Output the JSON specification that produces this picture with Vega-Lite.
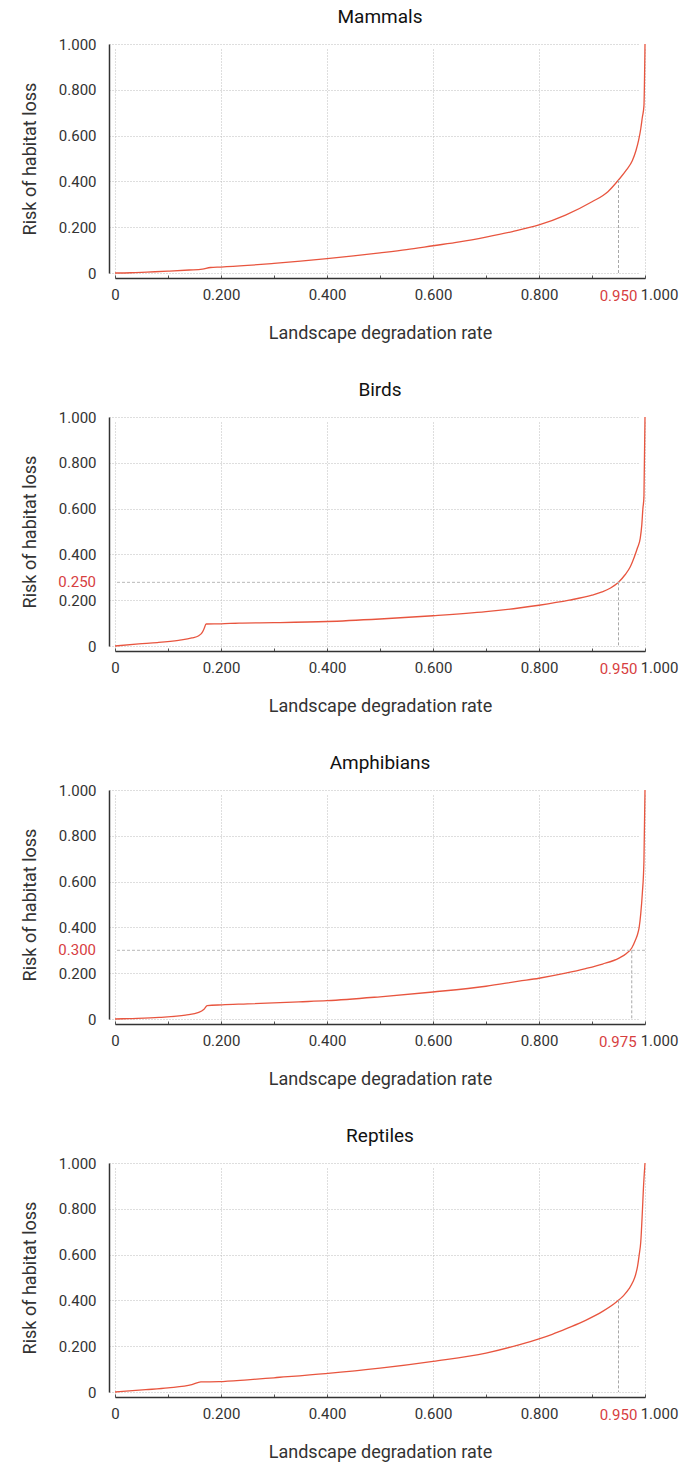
{
  "$schema": "https://vega.github.io/schema/vega-lite/v6.json",
  "padding": {"left": 21, "top": 8, "right": 5, "bottom": 5},
  "spacing": 39,
  "datasets": {
    "mammals": [
      {"x": 0, "y": 0}, {"x": 0.03, "y": 0.001}, {"x": 0.06, "y": 0.004}, {"x": 0.1, "y": 0.008},
      {"x": 0.14, "y": 0.013}, {"x": 0.165, "y": 0.017}, {"x": 0.18, "y": 0.024}, {"x": 0.2, "y": 0.026},
      {"x": 0.25, "y": 0.033}, {"x": 0.3, "y": 0.042}, {"x": 0.35, "y": 0.052}, {"x": 0.4, "y": 0.063},
      {"x": 0.45, "y": 0.075}, {"x": 0.5, "y": 0.088}, {"x": 0.55, "y": 0.102}, {"x": 0.6, "y": 0.119},
      {"x": 0.65, "y": 0.136}, {"x": 0.7, "y": 0.157}, {"x": 0.75, "y": 0.181}, {"x": 0.8, "y": 0.21},
      {"x": 0.85, "y": 0.253}, {"x": 0.9, "y": 0.311}, {"x": 0.93, "y": 0.355}, {"x": 0.95, "y": 0.406},
      {"x": 0.965, "y": 0.45}, {"x": 0.976, "y": 0.49}, {"x": 0.983, "y": 0.535}, {"x": 0.988, "y": 0.58},
      {"x": 0.992, "y": 0.63}, {"x": 0.995, "y": 0.68}, {"x": 0.998, "y": 0.73}, {"x": 1.0, "y": 1.0}
    ],
    "birds": [
      {"x": 0, "y": 0}, {"x": 0.045, "y": 0.009}, {"x": 0.08, "y": 0.015}, {"x": 0.12, "y": 0.025},
      {"x": 0.145, "y": 0.035}, {"x": 0.158, "y": 0.045}, {"x": 0.164, "y": 0.057}, {"x": 0.168, "y": 0.075},
      {"x": 0.172, "y": 0.096}, {"x": 0.2, "y": 0.097}, {"x": 0.234, "y": 0.1}, {"x": 0.3, "y": 0.102},
      {"x": 0.4, "y": 0.107}, {"x": 0.5, "y": 0.118}, {"x": 0.6, "y": 0.132}, {"x": 0.7, "y": 0.15},
      {"x": 0.762, "y": 0.166}, {"x": 0.8, "y": 0.178}, {"x": 0.857, "y": 0.2}, {"x": 0.9, "y": 0.222},
      {"x": 0.919, "y": 0.236}, {"x": 0.935, "y": 0.253}, {"x": 0.95, "y": 0.278}, {"x": 0.962, "y": 0.31},
      {"x": 0.972, "y": 0.345}, {"x": 0.98, "y": 0.39}, {"x": 0.986, "y": 0.43}, {"x": 0.991, "y": 0.47},
      {"x": 0.994, "y": 0.53}, {"x": 0.996, "y": 0.6}, {"x": 0.998, "y": 0.65}, {"x": 1.0, "y": 1.0}
    ],
    "amphibians": [
      {"x": 0, "y": 0}, {"x": 0.026, "y": 0.002}, {"x": 0.083, "y": 0.007}, {"x": 0.133, "y": 0.017},
      {"x": 0.158, "y": 0.029}, {"x": 0.168, "y": 0.043}, {"x": 0.174, "y": 0.058}, {"x": 0.202, "y": 0.062},
      {"x": 0.25, "y": 0.066}, {"x": 0.347, "y": 0.075}, {"x": 0.4, "y": 0.08}, {"x": 0.5, "y": 0.097},
      {"x": 0.6, "y": 0.118}, {"x": 0.7, "y": 0.143}, {"x": 0.762, "y": 0.165}, {"x": 0.8, "y": 0.178},
      {"x": 0.85, "y": 0.2}, {"x": 0.888, "y": 0.22}, {"x": 0.92, "y": 0.24}, {"x": 0.951, "y": 0.266},
      {"x": 0.965, "y": 0.286}, {"x": 0.975, "y": 0.31}, {"x": 0.982, "y": 0.345}, {"x": 0.986, "y": 0.37},
      {"x": 0.989, "y": 0.4}, {"x": 0.992, "y": 0.46}, {"x": 0.995, "y": 0.55}, {"x": 0.998, "y": 0.69}, {"x": 1.0, "y": 1.0}
    ],
    "reptiles": [
      {"x": 0, "y": 0}, {"x": 0.058, "y": 0.01}, {"x": 0.1, "y": 0.018}, {"x": 0.145, "y": 0.032},
      {"x": 0.162, "y": 0.044}, {"x": 0.196, "y": 0.045}, {"x": 0.25, "y": 0.053}, {"x": 0.3, "y": 0.062},
      {"x": 0.397, "y": 0.08}, {"x": 0.5, "y": 0.104}, {"x": 0.6, "y": 0.134}, {"x": 0.7, "y": 0.17},
      {"x": 0.762, "y": 0.206}, {"x": 0.8, "y": 0.232}, {"x": 0.825, "y": 0.252}, {"x": 0.855, "y": 0.28},
      {"x": 0.888, "y": 0.313}, {"x": 0.92, "y": 0.352}, {"x": 0.946, "y": 0.393}, {"x": 0.96, "y": 0.422},
      {"x": 0.97, "y": 0.451}, {"x": 0.977, "y": 0.48}, {"x": 0.982, "y": 0.51}, {"x": 0.986, "y": 0.55},
      {"x": 0.989, "y": 0.598}, {"x": 0.992, "y": 0.655}, {"x": 0.995, "y": 0.786}, {"x": 0.997, "y": 0.888}, {"x": 1.0, "y": 1.0}
    ]
  },
  "vconcat": [
    {
      "title": "Mammals",
      "width": 530, "height": 229,
      "layer": [
        {
          "data": {"name": "mammals"},
          "mark": {"type": "line", "color": "#e8553f", "strokeWidth": 1.3, "interpolate": "monotone"},
          "encoding": {
            "x": {"field": "x", "type": "quantitative", "scale": {"domain": [0, 1], "nice": false},
              "axis": {
                "title": "Landscape degradation rate",
                "labelFlush": false,
                "values": [0,0.05,0.1,0.15,0.2,0.25,0.3,0.35,0.4,0.45,0.5,0.55,0.6,0.65,0.7,0.75,0.8,0.85,0.9,0.95,1],
                "labelExpr": "datum.value == 0 ? '0' : (abs(datum.value*5 - round(datum.value*5)) < 1e-6 ? format(datum.value, '.3f') : '')",
                "labelOffset": {"condition": {"test": "datum.value == 1", "value": 14}, "value": 0},
                "gridOpacity": {"condition": {"test": "abs(datum.value*5 - round(datum.value*5)) < 1e-6", "value": 1}, "value": 0}
              }
            },
            "y": {"field": "y", "type": "quantitative", "scale": {"domain": [0, 1], "nice": false},
              "axis": {
                "title": "Risk of habitat loss",
                "values": [0, 0.2, 0.4, 0.6, 0.8, 1],
                "labelExpr": "datum.value == 0 ? '0' : format(datum.value, '.3f')"
              }
            }
          }
        },
        {
          "data": {"values": [{"x": 0.95, "y": 0.406}]},
          "mark": {"type": "rule", "color": "#a8a8a8", "strokeDash": [3, 2], "strokeWidth": 1},
          "encoding": {
            "x": {"field": "x", "type": "quantitative"},
            "y": {"field": "y", "type": "quantitative"},
            "y2": {"datum": 0}
          }
        },
        {
          "data": {"values": [{"x": 0.95, "y": 0, "label": "0.950"}]},
          "mark": {"type": "text", "color": "#d7403f", "font": "Roboto", "fontSize": 15, "align": "center", "baseline": "middle", "dy": 23},
          "encoding": {
            "x": {"field": "x", "type": "quantitative"},
            "y": {"field": "y", "type": "quantitative"},
            "text": {"field": "label"}
          }
        }
      ]
    },
    {
      "title": "Birds",
      "width": 530, "height": 229,
      "layer": [
        {
          "data": {"name": "birds"},
          "mark": {"type": "line", "color": "#e8553f", "strokeWidth": 1.3, "interpolate": "monotone"},
          "encoding": {
            "x": {"field": "x", "type": "quantitative", "scale": {"domain": [0, 1], "nice": false},
              "axis": {
                "title": "Landscape degradation rate",
                "labelFlush": false,
                "values": [0,0.05,0.1,0.15,0.2,0.25,0.3,0.35,0.4,0.45,0.5,0.55,0.6,0.65,0.7,0.75,0.8,0.85,0.9,0.95,1],
                "labelExpr": "datum.value == 0 ? '0' : (abs(datum.value*5 - round(datum.value*5)) < 1e-6 ? format(datum.value, '.3f') : '')",
                "labelOffset": {"condition": {"test": "datum.value == 1", "value": 14}, "value": 0},
                "gridOpacity": {"condition": {"test": "abs(datum.value*5 - round(datum.value*5)) < 1e-6", "value": 1}, "value": 0}
              }
            },
            "y": {"field": "y", "type": "quantitative", "scale": {"domain": [0, 1], "nice": false},
              "axis": {
                "title": "Risk of habitat loss",
                "values": [0, 0.2, 0.4, 0.6, 0.8, 1],
                "labelExpr": "datum.value == 0 ? '0' : format(datum.value, '.3f')"
              }
            }
          }
        },
        {
          "data": {"values": [{"x": 0.95, "y": 0.278}]},
          "mark": {"type": "rule", "color": "#a8a8a8", "strokeDash": [3, 2], "strokeWidth": 1},
          "encoding": {
            "x": {"field": "x", "type": "quantitative"},
            "y": {"field": "y", "type": "quantitative"},
            "y2": {"datum": 0}
          }
        },
        {
          "data": {"values": [{"y": 0.278}]},
          "mark": {"type": "rule", "color": "#b8b8b8", "strokeDash": [3, 2], "strokeWidth": 1},
          "encoding": {
            "y": {"field": "y", "type": "quantitative"}
          }
        },
        {
          "data": {"values": [{"x": 0.95, "y": 0, "label": "0.950"}]},
          "mark": {"type": "text", "color": "#d7403f", "font": "Roboto", "fontSize": 15, "align": "center", "baseline": "middle", "dy": 23},
          "encoding": {
            "x": {"field": "x", "type": "quantitative"},
            "y": {"field": "y", "type": "quantitative"},
            "text": {"field": "label"}
          }
        },
        {
          "data": {"values": [{"x": 0, "y": 0.278, "label": "0.250"}]},
          "mark": {"type": "text", "color": "#d7403f", "font": "Roboto", "fontSize": 15, "align": "right", "baseline": "middle", "dx": -19},
          "encoding": {
            "x": {"field": "x", "type": "quantitative"},
            "y": {"field": "y", "type": "quantitative"},
            "text": {"field": "label"}
          }
        }
      ]
    },
    {
      "title": "Amphibians",
      "width": 530, "height": 229,
      "layer": [
        {
          "data": {"name": "amphibians"},
          "mark": {"type": "line", "color": "#e8553f", "strokeWidth": 1.3, "interpolate": "monotone"},
          "encoding": {
            "x": {"field": "x", "type": "quantitative", "scale": {"domain": [0, 1], "nice": false},
              "axis": {
                "title": "Landscape degradation rate",
                "labelFlush": false,
                "values": [0,0.05,0.1,0.15,0.2,0.25,0.3,0.35,0.4,0.45,0.5,0.55,0.6,0.65,0.7,0.75,0.8,0.85,0.9,0.95,1],
                "labelExpr": "datum.value == 0 ? '0' : (abs(datum.value*5 - round(datum.value*5)) < 1e-6 ? format(datum.value, '.3f') : '')",
                "labelOffset": {"condition": {"test": "datum.value == 1", "value": 14}, "value": 0},
                "gridOpacity": {"condition": {"test": "abs(datum.value*5 - round(datum.value*5)) < 1e-6", "value": 1}, "value": 0}
              }
            },
            "y": {"field": "y", "type": "quantitative", "scale": {"domain": [0, 1], "nice": false},
              "axis": {
                "title": "Risk of habitat loss",
                "values": [0, 0.2, 0.4, 0.6, 0.8, 1],
                "labelExpr": "datum.value == 0 ? '0' : format(datum.value, '.3f')"
              }
            }
          }
        },
        {
          "data": {"values": [{"x": 0.975, "y": 0.3}]},
          "mark": {"type": "rule", "color": "#a8a8a8", "strokeDash": [3, 2], "strokeWidth": 1},
          "encoding": {
            "x": {"field": "x", "type": "quantitative"},
            "y": {"field": "y", "type": "quantitative"},
            "y2": {"datum": 0}
          }
        },
        {
          "data": {"values": [{"y": 0.3}]},
          "mark": {"type": "rule", "color": "#b8b8b8", "strokeDash": [3, 2], "strokeWidth": 1},
          "encoding": {
            "y": {"field": "y", "type": "quantitative"}
          }
        },
        {
          "data": {"values": [{"x": 0.975, "y": 0, "label": "0.975"}]},
          "mark": {"type": "text", "color": "#d7403f", "font": "Roboto", "fontSize": 15, "align": "center", "baseline": "middle", "dx": -14, "dy": 23},
          "encoding": {
            "x": {"field": "x", "type": "quantitative"},
            "y": {"field": "y", "type": "quantitative"},
            "text": {"field": "label"}
          }
        },
        {
          "data": {"values": [{"x": 0, "y": 0.3, "label": "0.300"}]},
          "mark": {"type": "text", "color": "#d7403f", "font": "Roboto", "fontSize": 15, "align": "right", "baseline": "middle", "dx": -19},
          "encoding": {
            "x": {"field": "x", "type": "quantitative"},
            "y": {"field": "y", "type": "quantitative"},
            "text": {"field": "label"}
          }
        }
      ]
    },
    {
      "title": "Reptiles",
      "width": 530, "height": 229,
      "layer": [
        {
          "data": {"name": "reptiles"},
          "mark": {"type": "line", "color": "#e8553f", "strokeWidth": 1.3, "interpolate": "monotone"},
          "encoding": {
            "x": {"field": "x", "type": "quantitative", "scale": {"domain": [0, 1], "nice": false},
              "axis": {
                "title": "Landscape degradation rate",
                "labelFlush": false,
                "values": [0,0.05,0.1,0.15,0.2,0.25,0.3,0.35,0.4,0.45,0.5,0.55,0.6,0.65,0.7,0.75,0.8,0.85,0.9,0.95,1],
                "labelExpr": "datum.value == 0 ? '0' : (abs(datum.value*5 - round(datum.value*5)) < 1e-6 ? format(datum.value, '.3f') : '')",
                "labelOffset": {"condition": {"test": "datum.value == 1", "value": 14}, "value": 0},
                "gridOpacity": {"condition": {"test": "abs(datum.value*5 - round(datum.value*5)) < 1e-6", "value": 1}, "value": 0}
              }
            },
            "y": {"field": "y", "type": "quantitative", "scale": {"domain": [0, 1], "nice": false},
              "axis": {
                "title": "Risk of habitat loss",
                "values": [0, 0.2, 0.4, 0.6, 0.8, 1],
                "labelExpr": "datum.value == 0 ? '0' : format(datum.value, '.3f')"
              }
            }
          }
        },
        {
          "data": {"values": [{"x": 0.95, "y": 0.4}]},
          "mark": {"type": "rule", "color": "#a8a8a8", "strokeDash": [3, 2], "strokeWidth": 1},
          "encoding": {
            "x": {"field": "x", "type": "quantitative"},
            "y": {"field": "y", "type": "quantitative"},
            "y2": {"datum": 0}
          }
        },
        {
          "data": {"values": [{"x": 0.95, "y": 0, "label": "0.950"}]},
          "mark": {"type": "text", "color": "#d7403f", "font": "Roboto", "fontSize": 15, "align": "center", "baseline": "middle", "dy": 23},
          "encoding": {
            "x": {"field": "x", "type": "quantitative"},
            "y": {"field": "y", "type": "quantitative"},
            "text": {"field": "label"}
          }
        }
      ]
    }
  ],
  "config": {
    "font": "Roboto",
    "view": {"stroke": null},
    "title": {"font": "Roboto", "fontSize": 19, "fontWeight": "normal", "color": "#111111", "offset": 10},
    "axis": {
      "labelFont": "Roboto", "labelFontSize": 15, "labelColor": "#333333",
      "titleFont": "Roboto", "titleFontSize": 18, "titleFontWeight": "normal", "titleColor": "#333333",
      "gridColor": "#bdbdbd", "gridDash": [1, 2], "gridWidth": 1,
      "domainColor": "#333333", "domainWidth": 1.5
    },
    "axisX": {"offset": 5, "tickSize": -3, "tickColor": "#555555", "labelPadding": 12, "titlePadding": 22},
    "axisY": {"offset": 6, "ticks": false, "labelPadding": 13, "titlePadding": 19}
  }
}
